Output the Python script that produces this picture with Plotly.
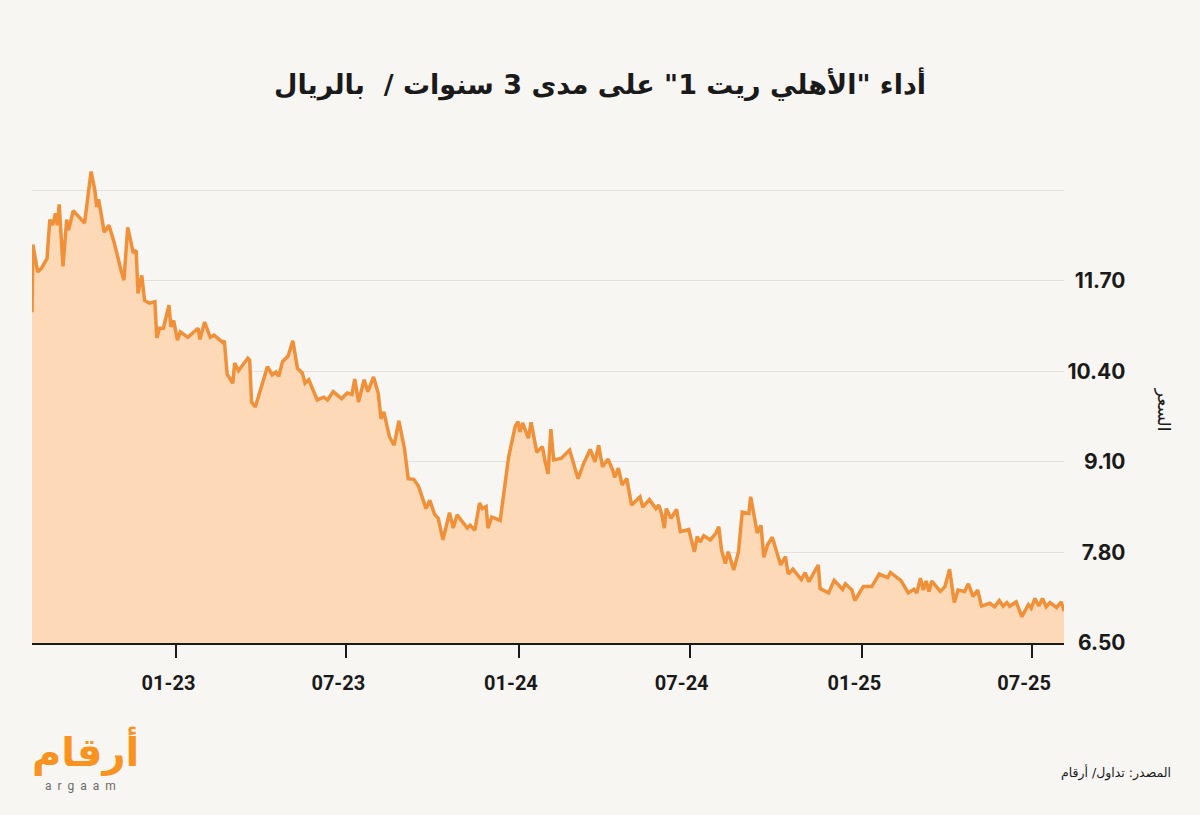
import plotly.graph_objects as go

# price series (SAR)
dates = [
    "2022-07-31", "2022-08-01", "2022-08-06", "2022-08-10", "2022-08-16", "2022-08-19", "2022-08-22", "2022-08-25", "2022-08-27", "2022-08-29",
    "2022-09-02", "2022-09-06", "2022-09-08", "2022-09-13", "2022-09-25", "2022-10-02", "2022-10-06", "2022-10-08", "2022-10-10", "2022-10-16",
    "2022-10-21", "2022-10-26", "2022-11-03", "2022-11-06", "2022-11-10", "2022-11-16", "2022-11-19", "2022-11-21", "2022-11-25", "2022-11-28",
    "2022-12-03", "2022-12-09", "2022-12-11", "2022-12-14", "2022-12-18", "2022-12-21", "2022-12-24", "2022-12-26", "2022-12-29",
    "2023-01-02", "2023-01-05", "2023-01-13", "2023-01-24", "2023-01-26", "2023-01-31", "2023-02-06", "2023-02-10", "2023-02-19", "2023-02-21",
    "2023-02-24", "2023-03-02", "2023-03-04", "2023-03-08", "2023-03-18", "2023-03-20", "2023-03-22", "2023-03-26", "2023-04-08", "2023-04-13",
    "2023-04-17", "2023-04-20", "2023-04-24", "2023-04-30", "2023-05-05", "2023-05-10", "2023-05-15", "2023-05-18", "2023-05-22", "2023-05-31",
    "2023-06-07", "2023-06-11", "2023-06-17", "2023-06-26",
    "2023-07-02", "2023-07-07", "2023-07-10", "2023-07-14", "2023-07-20", "2023-07-24", "2023-07-30", "2023-08-04", "2023-08-07", "2023-08-10",
    "2023-08-16", "2023-08-21", "2023-08-26", "2023-09-01", "2023-09-05", "2023-09-11", "2023-09-13", "2023-09-16", "2023-09-24", "2023-09-28",
    "2023-10-03", "2023-10-07", "2023-10-12", "2023-10-19", "2023-10-23", "2023-10-27", "2023-11-07", "2023-11-10", "2023-11-15", "2023-11-20",
    "2023-11-23", "2023-11-27", "2023-11-29", "2023-12-03", "2023-12-12", "2023-12-21", "2023-12-28", "2023-12-31",
    "2024-01-02", "2024-01-05", "2024-01-11", "2024-01-14", "2024-01-20", "2024-01-26", "2024-01-29", "2024-02-01", "2024-02-04", "2024-02-07",
    "2024-02-15", "2024-02-24", "2024-03-04", "2024-03-10", "2024-03-17", "2024-03-22", "2024-03-26", "2024-03-30", "2024-04-05", "2024-04-10",
    "2024-04-12", "2024-04-16", "2024-04-20", "2024-04-25", "2024-04-30", "2024-05-04", "2024-05-09", "2024-05-12", "2024-05-19", "2024-05-26",
    "2024-05-29", "2024-06-01", "2024-06-04", "2024-06-06", "2024-06-11", "2024-06-17", "2024-06-21", "2024-06-27", "2024-06-30",
    "2024-07-06", "2024-07-09", "2024-07-12", "2024-07-16", "2024-07-23", "2024-07-29", "2024-08-01", "2024-08-04", "2024-08-08", "2024-08-11",
    "2024-08-17", "2024-08-22", "2024-08-26", "2024-09-02", "2024-09-04", "2024-09-11", "2024-09-15", "2024-09-18", "2024-09-22", "2024-09-27",
    "2024-10-06", "2024-10-11", "2024-10-14", "2024-10-19", "2024-10-28", "2024-11-01", "2024-11-05", "2024-11-15", "2024-11-17", "2024-11-26",
    "2024-12-02", "2024-12-11", "2024-12-14", "2024-12-21", "2024-12-24",
    "2025-01-02", "2025-01-11", "2025-01-19", "2025-01-28", "2025-01-31", "2025-02-11", "2025-02-19", "2025-02-25", "2025-02-28", "2025-03-04",
    "2025-03-07", "2025-03-10", "2025-03-13", "2025-03-16", "2025-03-25", "2025-03-30", "2025-04-04", "2025-04-09", "2025-04-13", "2025-04-20",
    "2025-04-24", "2025-04-29", "2025-05-04", "2025-05-08", "2025-05-17", "2025-05-22", "2025-05-27", "2025-05-31", "2025-06-04", "2025-06-07",
    "2025-06-14", "2025-06-20", "2025-06-27", "2025-06-30", "2025-07-04", "2025-07-08", "2025-07-12", "2025-07-16", "2025-07-20", "2025-07-27",
    "2025-08-01", "2025-08-04",
]

prices = [
    11.25, 12.22, 11.83, 11.88, 12.02, 12.58, 12.50, 12.67, 12.50, 12.80,
    11.91, 12.58, 12.43, 12.71, 12.53, 13.27, 13.00, 12.76, 12.87, 12.40,
    12.50, 12.28, 11.85, 11.71, 12.47, 12.10, 12.14, 11.52, 11.78, 11.42,
    11.38, 11.40, 10.88, 11.02, 11.02, 11.21, 11.35, 11.04, 11.13,
    10.85, 10.97, 10.89, 11.02, 10.86, 11.11, 10.89, 10.92, 10.82, 10.84,
    10.36, 10.23, 10.52, 10.41, 10.59, 10.56, 9.96, 9.89, 10.47, 10.35,
    10.39, 10.33, 10.54, 10.62, 10.84, 10.44, 10.38, 10.23, 10.28, 9.99,
    10.03, 9.99, 10.11, 10.01,
    10.09, 10.07, 10.29, 9.96, 10.28, 10.11, 10.32, 10.09, 9.72, 9.82,
    9.46, 9.34, 9.69, 9.29, 8.86, 8.85, 8.81, 8.75, 8.43, 8.55,
    8.35, 8.29, 7.98, 8.37, 8.15, 8.34, 8.15, 8.19, 8.12, 8.51,
    8.43, 8.46, 8.15, 8.31, 8.26, 9.17, 9.61, 9.68,
    9.53, 9.66, 9.44, 9.67, 9.24, 9.32, 9.10, 8.93, 9.57, 9.13,
    9.15, 9.27, 8.86, 9.08, 9.28, 9.10, 9.34, 9.03, 9.14, 8.98,
    8.88, 9.01, 8.77, 8.86, 8.48, 8.53, 8.60, 8.45, 8.56, 8.43,
    8.48, 8.36, 8.15, 8.43, 8.29, 8.42, 8.10, 8.12, 8.13,
    7.81, 8.03, 7.95, 8.04, 7.98, 8.08, 8.17, 7.83, 7.64, 7.81,
    7.55, 7.81, 8.38, 8.36, 8.60, 8.08, 8.19, 7.73, 7.91, 8.02,
    7.62, 7.74, 7.49, 7.56, 7.41, 7.51, 7.38, 7.62, 7.28, 7.22,
    7.40, 7.27, 7.35, 7.26, 7.11,
    7.31, 7.31, 7.49, 7.44, 7.51, 7.40, 7.22, 7.27, 7.22, 7.43,
    7.26, 7.39, 7.24, 7.39, 7.24, 7.31, 7.56, 7.08, 7.26, 7.24,
    7.35, 7.17, 7.26, 7.03, 7.07, 7.02, 7.11, 7.03, 7.08, 7.03,
    7.09, 6.88, 7.05, 7.00, 7.14, 7.03, 7.14, 7.02, 7.08, 7.01,
    7.09, 6.96,
]

x_ticks = ["2023-01-01", "2023-07-01", "2024-01-01", "2024-07-01", "2025-01-01", "2025-07-01"]
x_labels = ["01-23", "07-23", "01-24", "07-24", "01-25", "07-25"]
y_ticks = [6.5, 7.8, 9.1, 10.4, 11.7, 13.0]
y_labels = ["6.50", "7.80", "9.10", "10.40", "11.70", ""]

title = 'أداء "الأهلي ريت 1" على مدى 3 سنوات /  بالريال'
bg = "#f8f6f3"
ink = "#1a1a1a"
arabic = "DejaVu Sans, Noto Sans, sans-serif"

fig = go.Figure()

fig.add_trace(go.Scatter(
    x=dates,
    y=prices,
    mode="lines",
    line=dict(color="#f0913a", width=3.5),
    fill="tozeroy",
    fillcolor="#fdd9b8",
    hoverinfo="x+y",
    showlegend=False
))

fig.update_layout(
    width=1200,
    height=815,
    margin=dict(l=32, r=20, t=166, b=172),
    paper_bgcolor=bg,
    plot_bgcolor=bg,
    title=dict(
        text="<b>" + title + "</b>",
        x=0.5, xref="container", xanchor="center",
        y=0.896, yref="container", yanchor="middle",
        font=dict(family=arabic, size=27, color=ink)
    ),
    xaxis=dict(
        type="date",
        domain=[0, 0.899],
        range=["2022-07-31", "2025-08-04"],
        tickvals=x_ticks,
        ticktext=x_labels,
        ticks="outside",
        ticklen=13,
        tickwidth=1.5,
        tickcolor=ink,
        showline=True,
        linecolor=ink,
        linewidth=1.5,
        showgrid=False,
        zeroline=False,
        ticklabelshift=-8,
        ticklabelstandoff=8,
        tickfont=dict(family="Roboto", size=20, color=ink, weight="bold")
    ),
    yaxis=dict(
        range=[6.5, 13.35],
        anchor="free",
        position=0.9525,
        side="left",
        tickvals=y_ticks,
        ticktext=y_labels,
        ticks="",
        showline=False,
        zeroline=False,
        showgrid=True,
        gridcolor="#e4e1dd",
        gridwidth=1,
        tickfont=dict(family="Inter", size=21, color=ink, weight="bold")
    ),
    hovermode="x"
)

# y axis title, rotated to read top to bottom
fig.add_annotation(
    text="السعر", textangle=90,
    x=0.996, y=0.488, xref="paper", yref="paper",
    showarrow=False, font=dict(family=arabic, size=17, color=ink)
)

# source note
fig.add_annotation(
    text="المصدر: تداول/ أرقام",
    x=0.994, y=-0.2725, xref="paper", yref="paper",
    xanchor="right", yanchor="middle",
    showarrow=False, font=dict(family=arabic, size=12.5, color=ink)
)

# argaam logo as text
fig.add_annotation(
    text="<b>أرقام</b>",
    x=0.047, y=-0.226, xref="paper", yref="paper",
    xanchor="center", yanchor="middle",
    showarrow=False, font=dict(family=arabic, size=40, color="#f7931e")
)
fig.add_annotation(
    text="a  r  g  a  a  m",
    x=0.042, y=-0.299, xref="paper", yref="paper",
    xanchor="center", yanchor="middle",
    showarrow=False, font=dict(family="Roboto", size=12, color="#6b6b6b")
)

# drop the page's default body margin so the figure sits at the window origin
fig.write_html(
    "out.html",
    config={"displayModeBar": False},
    post_script="document.body.style.margin='0';document.body.style.background='#f8f6f3';"
)
